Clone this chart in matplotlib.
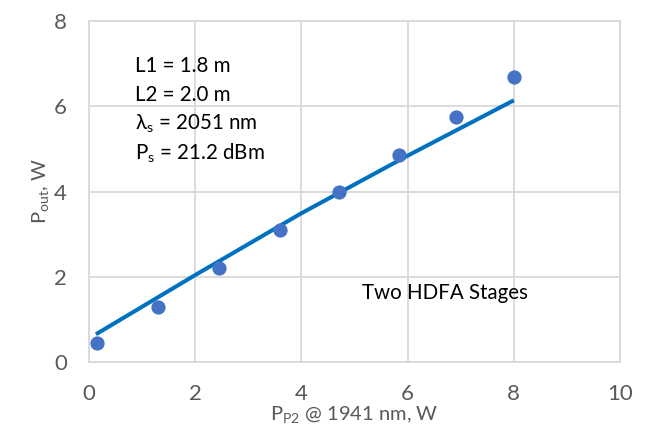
import matplotlib
matplotlib.use('Agg')
import matplotlib.pyplot as plt

# measured points
pump_power = [0.15, 1.30, 2.44, 3.60, 4.71, 5.84, 6.92, 8.00]
output_power = [0.44, 1.30, 2.21, 3.09, 3.98, 4.86, 5.75, 6.69]

# trend line
trend_x = [0.13, 2.0, 4.0, 6.0, 8.0]
trend_y = [0.65, 2.04, 3.49, 4.84, 6.14]

notes = ['L1 = 1.8 m', 'L2 = 2.0 m', 'λ$_s$ = 2051 nm', 'P$_s$ = 21.2 dBm']

plt.rcParams['font.family'] = ['Lato', 'DejaVu Sans']
plt.rcParams['mathtext.default'] = 'regular'

fig = plt.figure(figsize=(6.46, 4.34), dpi=100)
ax = fig.add_axes([0.1378, 0.1659, 0.822, 0.7857])

ax.plot(trend_x, trend_y, color='#0070C0', lw=2.9, solid_capstyle='butt', zorder=3)
ax.scatter(pump_power, output_power, s=105, color='#4472C4', zorder=4, linewidths=0)

ax.set_xlim(0, 10)
ax.set_ylim(0, 8)
ax.set_xticks(range(0, 11, 2))
ax.set_yticks(range(0, 9, 2))
ax.grid(True, color='#d9d9d9', lw=1.3)
ax.set_axisbelow(True)
for s in ax.spines.values():
    s.set_color('#d9d9d9')
    s.set_linewidth(1.3)
ax.tick_params(length=0, pad=16, labelsize=16, labelcolor='#595959')

ax.set_xlabel('P$_{P2}$ @ 1941 nm, W', fontsize=14.5, color='#595959', labelpad=0)
ax.set_ylabel('P$_{out}$, W', fontsize=14.5, color='#595959', labelpad=2)

for i, t in enumerate(notes):
    ax.text(0.0866, 0.868 - i * 0.0855, t, transform=ax.transAxes,
            fontsize=14.8, va='center', ha='left', color='black')
ax.text(0.5135, 0.2015, 'Two HDFA Stages', transform=ax.transAxes,
        fontsize=14.8, va='center', ha='left', color='black')

fig.savefig('out.png', dpi=100)
